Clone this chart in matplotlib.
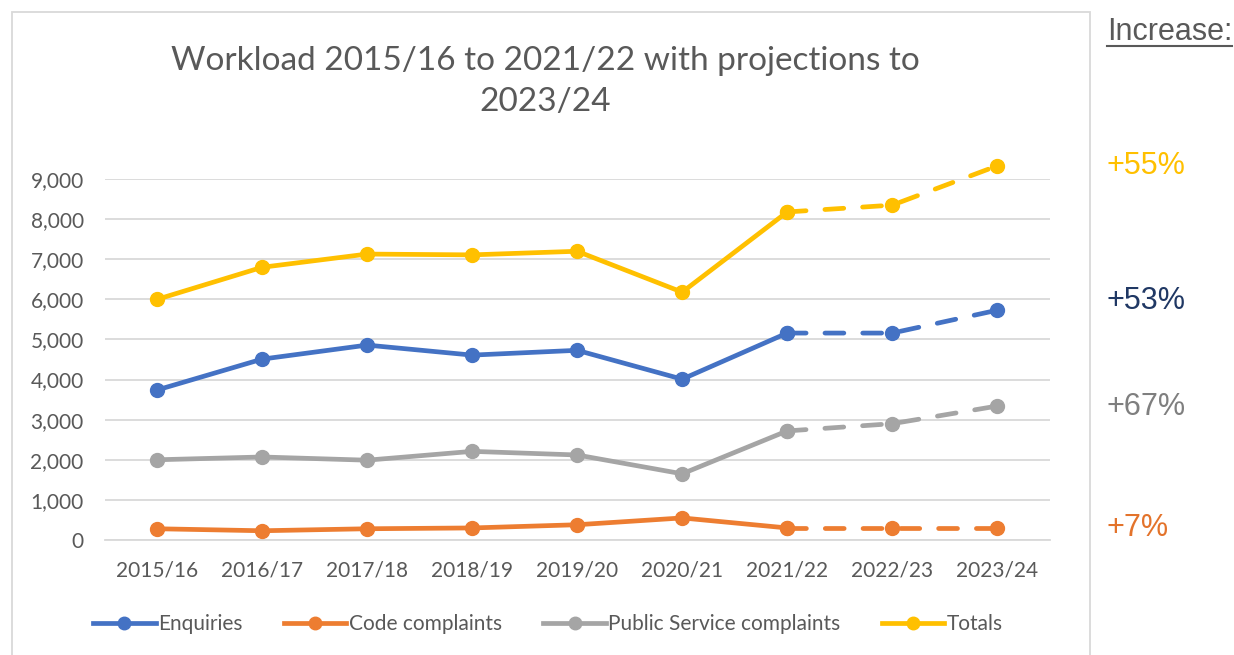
import matplotlib.pyplot as plt
from matplotlib.lines import Line2D
from matplotlib.patches import Rectangle

plt.rcParams["font.family"] = ["Lato", "DejaVu Sans"]

# Data
years = ["2015/16", "2016/17", "2017/18", "2018/19", "2019/20",
         "2020/21", "2021/22", "2022/23", "2023/24"]
enquiries = [3740, 4510, 4860, 4610, 4730, 4010, 5160, 5160, 5730]
code_complaints = [280, 230, 280, 300, 380, 550, 300, 300, 300]
public_service = [2000, 2070, 1990, 2210, 2120, 1650, 2720, 2900, 3340]
totals = [6000, 6800, 7130, 7110, 7200, 6180, 8180, 8350, 9330]

series_names = ["Enquiries", "Code complaints", "Public Service complaints", "Totals"]
series_values = [enquiries, code_complaints, public_service, totals]
series_colors = ["#4472C4", "#ED7D31", "#A5A5A5", "#FFC000"]

increase_labels = ["+53%", "+7%", "+67%", "+55%"]
increase_colors = ["#203864", "#E3732B", "#7F7F7F", "#FFC000"]

last_actual = 6  # 2021/22 is the last actual year; after that projections

fig = plt.figure(figsize=(12.34, 6.55), dpi=100)
ax = fig.add_axes([0.0847, 0.1756, 0.766, 0.551])

x = list(range(len(years)))
for vals, color in zip(series_values, series_colors):
    ax.plot(x[:last_actual + 1], vals[:last_actual + 1], color=color, lw=3.4,
            marker="o", markersize=10, solid_capstyle="round", clip_on=False,
            zorder=3)
    ax.plot(x[last_actual:], vals[last_actual:], color=color, lw=3.4,
            linestyle=(0, (4, 4)), dash_capstyle="round",
            marker="o", markersize=10, clip_on=False, zorder=3)

ax.set_xlim(-0.5, len(years) - 0.5)
ax.set_ylim(0, 9000)
ax.set_yticks(range(0, 9001, 1000))
ax.set_yticklabels([f"{v:,}" for v in range(0, 9001, 1000)])
ax.set_xticks(x)
ax.set_xticklabels(years)
ax.tick_params(axis="both", length=0, labelsize=15, colors="#595959")
ax.tick_params(axis="x", pad=15)
ax.tick_params(axis="y", pad=15)
ax.grid(axis="y", color="#D9D9D9", lw=1.3)
ax.set_axisbelow(True)
for side in ["top", "right", "left"]:
    ax.spines[side].set_visible(False)
ax.spines["bottom"].set_color("#D9D9D9")
ax.spines["bottom"].set_linewidth(1.3)

fig.text(0.4417, 1 - 81.5 / 655, "Workload 2015/16 to 2021/22 with projections to\n2023/24",
         ha="center", va="center", fontsize=24, color="#595959", linespacing=1.45)

# chart border
fig.patches.append(Rectangle((12 / 1234, -0.01), 1078 / 1234, 1 - 12 / 655 + 0.01,
                             transform=fig.transFigure, fill=False,
                             edgecolor="#D9D9D9", lw=1.3))

handles = [Line2D([], [], color=c, lw=3.4, marker="o", markersize=9) for c in series_colors]
fig.legend(handles, series_names, loc="center", bbox_to_anchor=(0.444, 0.047),
           ncol=4, frameon=False, fontsize=15, labelcolor="#595959",
           handlelength=3.0, handletextpad=0.1, columnspacing=2.0)

# increase annotations to the right
fig.text(1107 / 1234, 1 - 32 / 655, "Increase:", ha="left", va="center",
         fontsize=22, color="#595959", family=["Liberation Sans"])
fig.add_artist(Line2D([1107 / 1234, 1232 / 1234], [1 - 46 / 655, 1 - 46 / 655],
                      color="#595959", lw=1.5, transform=fig.transFigure))
increase_y = [301, 528, 407, 166]
for label, color, ypx in zip(increase_labels, increase_colors, increase_y):
    fig.text(1107 / 1234, 1 - ypx / 655, label, ha="left", va="center",
             fontsize=22, color=color, family=["Liberation Sans"])

fig.savefig("out.png", dpi=100)
